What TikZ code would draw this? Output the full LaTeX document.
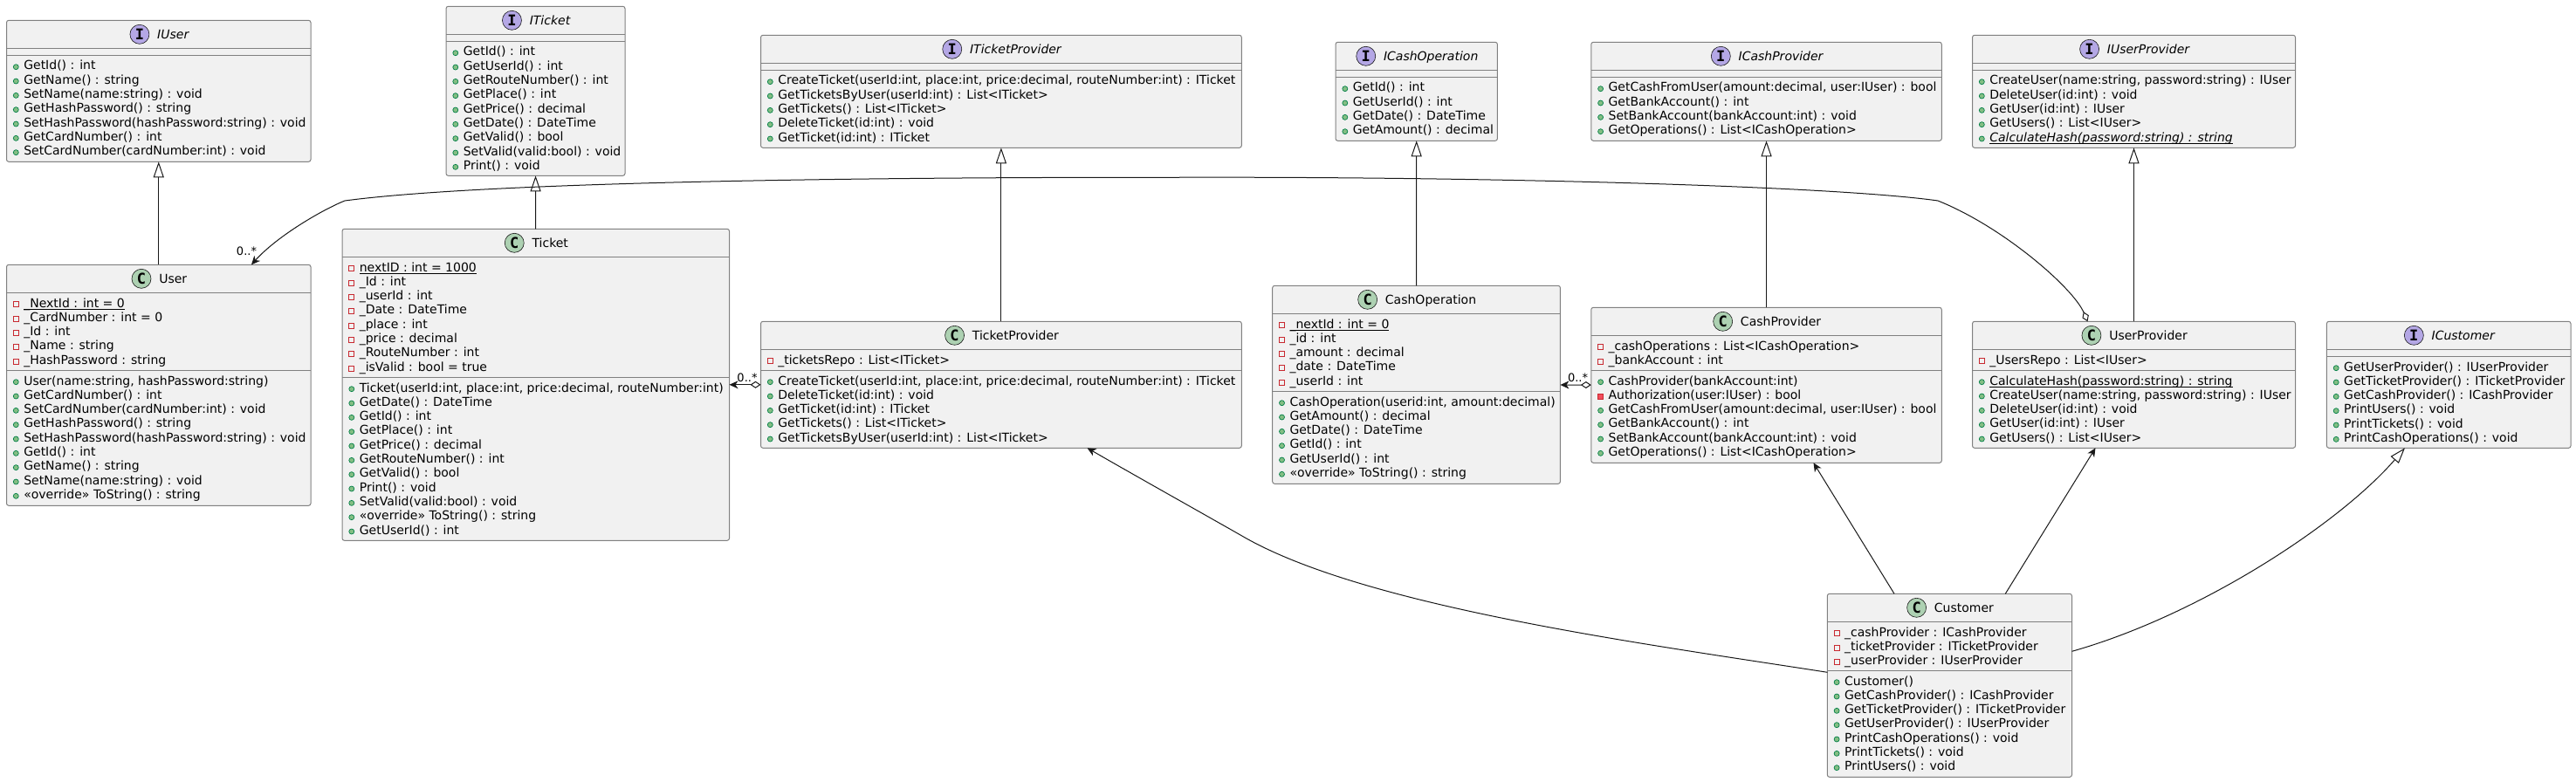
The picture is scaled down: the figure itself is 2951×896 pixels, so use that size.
\documentclass[tikz,border=0pt]{standalone}
\usepackage{fontspec}
\setmainfont{DejaVu Sans}
\setmonofont{DejaVu Sans Mono}
\usepackage{xcolor}
\usetikzlibrary{calc,positioning,arrows.meta}
\definecolor{umlFill}{HTML}{F1F1F1}
\definecolor{umlBorder}{HTML}{808080}
\definecolor{umlLine}{HTML}{181818}
\definecolor{ifaceFill}{HTML}{B4A7E5}
\definecolor{classFill}{HTML}{ADD1B2}
\definecolor{pubFill}{HTML}{84BE84}
\definecolor{pubDraw}{HTML}{038048}
\definecolor{prvFill}{HTML}{F24D5C}
\definecolor{prvDraw}{HTML}{C82930}

% box, title band and icon
\newcommand{\umlbox}[8]{%
  \node[classbox, anchor=north west, minimum width={#4-#2}, minimum height={#5-#3}] (#1) at (#2,#3) {};
  \node[titletext] (#1-title) at ($(#1.north)+(16.5,16)$) {#8};
  \node[#6, left=9pt of #1-title] (#1-icon) {#7};
}
% separator line alone
\newcommand{\umlsep}[2]{%
  \draw[classsep] (#1.west |- 0,#2) -- (#1.east |- 0,#2);
}
% separator line and its rows
\newcommand{\umlrows}[3]{%
  \umlsep{#1}{#2}
  \foreach \vis/\txt [count=\i] in {#3} {
    \node[rowtext] (#1-#2-r\i) at ($(#1.west |- 0,#2)+(19.8,{16.7+(\i-1)*16.33})$) {\txt};
    \node[\vis] (#1-#2-v\i) at ($(#1.west |- 0,#2)+(10.8,{13.4+(\i-1)*16.33})$) {};
  }
}
% static members: the rule sits just under the baseline
\newsavebox{\staticbox}
\newcommand{\staticrow}[1]{\sbox{\staticbox}{#1}\rlap{\vrule width\wd\staticbox height-1.8pt depth2.8pt}\usebox{\staticbox}}

\begin{document}
\begin{tikzpicture}[
  x=1pt, y=-1pt,
  classbox/.style={draw=umlBorder, fill=umlFill, rounded corners=2.5pt, inner sep=0pt,
    outer sep=0pt, line width=1pt},
  classsep/.style={draw=umlBorder, line width=1pt},
  titletext/.style={font=\fontsize{14}{16}\selectfont, inner sep=0pt, outer sep=0pt,
    text height=13pt, text depth=3pt},
  rowtext/.style={font=\fontsize{14}{16}\selectfont, anchor=base west, inner sep=0pt, outer sep=0pt},
  ifaceicon/.style={circle, draw=umlLine, fill=ifaceFill, minimum size=22pt, inner sep=0pt,
    line width=0.6pt, font=\fontsize{17}{17}\selectfont\ttfamily\bfseries},
  classicon/.style={circle, draw=umlLine, fill=classFill, minimum size=22pt, inner sep=0pt,
    line width=0.6pt, font=\fontsize{17}{17}\selectfont\ttfamily\bfseries},
  pubm/.style={circle, draw=pubDraw, fill=pubFill, minimum size=6pt, inner sep=0pt, line width=0.7pt},
  prvf/.style={rectangle, draw=prvDraw, minimum size=6pt, inner sep=0pt, line width=1pt},
  prvm/.style={rectangle, draw=prvDraw, fill=prvFill, minimum size=6pt, inner sep=0pt, line width=1pt},
  multlabel/.style={font=\fontsize{13}{13}\selectfont, inner sep=0pt, outer sep=0pt},
  implements/.style={-{Triangle[open, length=18pt, width=12pt, fill=white]}, draw=umlLine, line width=1pt},
  usesconn/.style={-{Stealth[length=10pt, width=9pt, inset=3pt]}, draw=umlLine, line width=1pt},
  holdsconn/.style={{Diamond[open, length=12pt, width=8pt, fill=white]}-{Stealth[length=10pt, width=9pt, inset=3pt]},
    draw=umlLine, line width=1pt},
]

\useasboundingbox (0,0) rectangle (2951,896);

% === IUser ===
\umlbox{iuser}{7.5}{23.3}{356}{185.3}{ifaceicon}{I}{\itshape IUser}
\umlsep{iuser}{55.3}
\umlrows{iuser}{63.3}{pubm/{GetId() : int}, pubm/{GetName() : string}, pubm/{SetName(name:string) : void},
  pubm/{GetHashPassword() : string}, pubm/{SetHashPassword(hashPassword:string) : void},
  pubm/{GetCardNumber() : int}, pubm/{SetCardNumber(cardNumber:int) : void}}

% === User ===
\umlbox{user}{7.5}{303.3}{356}{579.3}{classicon}{C}{User}
\umlrows{user}{335.3}{prvf/{\staticrow{\_NextId : int = 0}}, prvf/{\_CardNumber : int = 0}, prvf/{\_Id : int},
  prvf/{\_Name : string}, prvf/{\_HashPassword : string}}
\umlrows{user}{424.3}{pubm/{User(name:string, hashPassword:string)}, pubm/{GetCardNumber() : int},
  pubm/{SetCardNumber(cardNumber:int) : void}, pubm/{GetHashPassword() : string},
  pubm/{SetHashPassword(hashPassword:string) : void}, pubm/{GetId() : int}, pubm/{GetName() : string},
  pubm/{SetName(name:string) : void}, pubm/{«override» ToString() : string}}

% === ITicket ===
\umlbox{iticket}{511}{7.3}{716}{201.3}{ifaceicon}{I}{\itshape ITicket}
\umlsep{iticket}{39.3}
\umlrows{iticket}{47.3}{pubm/{GetId() : int}, pubm/{GetUserId() : int}, pubm/{GetRouteNumber() : int},
  pubm/{GetPlace() : int}, pubm/{GetPrice() : decimal}, pubm/{GetDate() : DateTime}, pubm/{GetValid() : bool},
  pubm/{SetValid(valid:bool) : void}, pubm/{Print() : void}}

% === Ticket ===
\umlbox{ticket}{392}{262.3}{835.5}{619.3}{classicon}{C}{Ticket}
\umlrows{ticket}{294.3}{prvf/{\staticrow{nextID : int = 1000}}, prvf/{\_Id : int}, prvf/{\_userId : int},
  prvf/{\_Date : DateTime}, prvf/{\_place : int}, prvf/{\_price : decimal}, prvf/{\_RouteNumber : int},
  prvf/{\_isValid : bool = true}}
\umlrows{ticket}{432.3}{pubm/{Ticket(userId:int, place:int, price:decimal, routeNumber:int)},
  pubm/{GetDate() : DateTime}, pubm/{GetId() : int}, pubm/{GetPlace() : int}, pubm/{GetPrice() : decimal},
  pubm/{GetRouteNumber() : int}, pubm/{GetValid() : bool}, pubm/{Print() : void},
  pubm/{SetValid(valid:bool) : void}, pubm/{«override» ToString() : string}, pubm/{GetUserId() : int}}

% === ITicketProvider ===
\umlbox{iticketprovider}{871.5}{40.3}{1422.3}{169.3}{ifaceicon}{I}{\itshape ITicketProvider}
\umlsep{iticketprovider}{72.3}
\umlrows{iticketprovider}{80.3}{pubm/{CreateTicket(userId:int, place:int, price:decimal, routeNumber:int) : ITicket},
  pubm/{GetTicketsByUser(userId:int) : List<ITicket>}, pubm/{GetTickets() : List<ITicket>},
  pubm/{DeleteTicket(id:int) : void}, pubm/{GetTicket(id:int) : ITicket}}

% === TicketProvider ===
\umlbox{ticketprovider}{871.5}{368.3}{1422.3}{513.3}{classicon}{C}{TicketProvider}
\umlrows{ticketprovider}{400.3}{prvf/{\_ticketsRepo : List<ITicket>}}
\umlrows{ticketprovider}{424.3}{pubm/{CreateTicket(userId:int, place:int, price:decimal, routeNumber:int) : ITicket},
  pubm/{DeleteTicket(id:int) : void}, pubm/{GetTicket(id:int) : ITicket}, pubm/{GetTickets() : List<ITicket>},
  pubm/{GetTicketsByUser(userId:int) : List<ITicket>}}

% === ICashOperation ===
\umlbox{icashoperation}{1530}{48.3}{1715.4}{161.3}{ifaceicon}{I}{\itshape ICashOperation}
\umlsep{icashoperation}{80.3}
\umlrows{icashoperation}{88.3}{pubm/{GetId() : int}, pubm/{GetUserId() : int}, pubm/{GetDate() : DateTime},
  pubm/{GetAmount() : decimal}}

% === CashOperation ===
\umlbox{cashoperation}{1457.7}{327.3}{1787.4}{554.3}{classicon}{C}{CashOperation}
\umlrows{cashoperation}{359.3}{prvf/{\staticrow{\_nextId : int = 0}}, prvf/{\_id : int}, prvf/{\_amount : decimal},
  prvf/{\_date : DateTime}, prvf/{\_userId : int}}
\umlrows{cashoperation}{448.3}{pubm/{CashOperation(userid:int, amount:decimal)}, pubm/{GetAmount() : decimal},
  pubm/{GetDate() : DateTime}, pubm/{GetId() : int}, pubm/{GetUserId() : int}, pubm/{«override» ToString() : string}}

% === ICashProvider ===
\umlbox{icashprovider}{1822.8}{48.3}{2224.3}{161.3}{ifaceicon}{I}{\itshape ICashProvider}
\umlsep{icashprovider}{80.3}
\umlrows{icashprovider}{88.3}{pubm/{GetCashFromUser(amount:decimal, user:IUser) : bool}, pubm/{GetBankAccount() : int},
  pubm/{SetBankAccount(bankAccount:int) : void}, pubm/{GetOperations() : List<ICashOperation>}}

% === CashProvider ===
\umlbox{cashprovider}{1822.8}{352.3}{2224.3}{530.3}{classicon}{C}{CashProvider}
\umlrows{cashprovider}{384.3}{prvf/{\_cashOperations : List<ICashOperation>}, prvf/{\_bankAccount : int}}
\umlrows{cashprovider}{424.3}{pubm/{CashProvider(bankAccount:int)}, prvm/{Authorization(user:IUser) : bool},
  pubm/{GetCashFromUser(amount:decimal, user:IUser) : bool}, pubm/{GetBankAccount() : int},
  pubm/{SetBankAccount(bankAccount:int) : void}, pubm/{GetOperations() : List<ICashOperation>}}

% === IUserProvider ===
\umlbox{iuserprovider}{2259.5}{40.3}{2629.5}{169.3}{ifaceicon}{I}{\itshape IUserProvider}
\umlsep{iuserprovider}{72.3}
\umlrows{iuserprovider}{80.3}{pubm/{CreateUser(name:string, password:string) : IUser}, pubm/{DeleteUser(id:int) : void},
  pubm/{GetUser(id:int) : IUser}, pubm/{GetUsers() : List<IUser>},
  pubm/{\itshape\staticrow{CalculateHash(password:string) : string}}}

% === UserProvider ===
\umlbox{userprovider}{2259.5}{368.3}{2629.5}{513.3}{classicon}{C}{UserProvider}
\umlrows{userprovider}{400.3}{prvf/{\_UsersRepo : List<IUser>}}
\umlrows{userprovider}{424.3}{pubm/{\staticrow{CalculateHash(password:string) : string}},
  pubm/{CreateUser(name:string, password:string) : IUser}, pubm/{DeleteUser(id:int) : void},
  pubm/{GetUser(id:int) : IUser}, pubm/{GetUsers() : List<IUser>}}

% === ICustomer ===
\umlbox{icustomer}{2665.4}{368.3}{2945}{513.3}{ifaceicon}{I}{\itshape ICustomer}
\umlsep{icustomer}{400.3}
\umlrows{icustomer}{408.3}{pubm/{GetUserProvider() : IUserProvider}, pubm/{GetTicketProvider() : ITicketProvider},
  pubm/{GetCashProvider() : ICashProvider}, pubm/{PrintUsers() : void}, pubm/{PrintTickets() : void},
  pubm/{PrintCashOperations() : void}}

% === Customer ===
\umlbox{customer}{2093.3}{680.3}{2373.5}{890.3}{classicon}{C}{Customer}
\umlrows{customer}{712.3}{prvf/{\_cashProvider : ICashProvider}, prvf/{\_ticketProvider : ITicketProvider},
  prvf/{\_userProvider : IUserProvider}}
\umlrows{customer}{768.3}{pubm/{Customer()}, pubm/{GetCashProvider() : ICashProvider},
  pubm/{GetTicketProvider() : ITicketProvider}, pubm/{GetUserProvider() : IUserProvider},
  pubm/{PrintCashOperations() : void}, pubm/{PrintTickets() : void}, pubm/{PrintUsers() : void}}

% === Interfaces ===
\draw[implements] (user) -- (iuser);
\draw[implements] (ticket) -- (iticket);
\draw[implements] (ticketprovider) -- (iticketprovider);
\draw[implements] (cashoperation) -- (icashoperation);
\draw[implements] (cashprovider) -- (icashprovider);
\draw[implements] (userprovider) -- (iuserprovider);
\draw[implements] ($(customer.north east)+(0,66)$) .. controls (2520,705) and (2680,600) .. ($(icustomer.south west)+(89.6,0)$);

% === Held collections ===
\draw[holdsconn] (ticketprovider) -- (ticket);
\draw[holdsconn] (cashprovider) -- (cashoperation);
\draw[holdsconn] ($(userprovider.north west)+(132,0)$)
  .. controls (2375,330) and (2295,260) .. (2220,230)
  .. controls (2100,213) and (1700,202) .. (1335,203.3)
  .. controls (1000,203) and (560,208) .. (395,230)
  .. controls (370,240) and (318,270) .. ($(user.north west)+(280.5,0)$);
\node[multlabel] (mult-ticket) at (856,433) {0..*};
\node[multlabel] (mult-cash) at (1807.5,433) {0..*};
\node[multlabel] (mult-user) at (282.5,287.7) {0..*};

% === Customer uses ===
\draw[usesconn] ($(customer.north west)+(76.7,0)$) -- ($(cashprovider.south west)+(254.7,0)$);
\draw[usesconn] ($(customer.north west)+(204,0)$) -- ($(userprovider.south west)+(141,0)$);
\draw[usesconn] ($(customer.north west)+(0,90)$)
  .. controls (1880,737) and (1560,695) .. (1421,613)
  .. controls (1363,580) and (1304,547) .. ($(ticketprovider.south west)+(374,0)$);

\end{tikzpicture}
\end{document}
